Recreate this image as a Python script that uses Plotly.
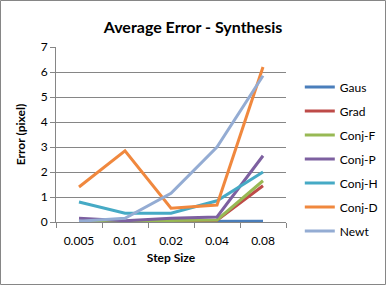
import plotly.graph_objects as go

categories = ["0.005", "0.01", "0.02", "0.04", "0.08"]
series_names = ["Gaus", "Grad", "Conj-F", "Conj-P", "Conj-H", "Conj-D", "Newt"]
gaus = [0.02, 0.02, 0.02, 0.02, 0.03]
grad = [0.0, 0.0, 0.05, 0.07, 1.45]
conj_f = [0.02, 0.02, 0.06, 0.08, 1.65]
conj_p = [0.15, 0.05, 0.15, 0.2, 2.65]
conj_h = [0.8, 0.35, 0.35, 0.85, 2.0]
conj_d = [1.4, 2.85, 0.55, 0.68, 6.2]
newt = [0.03, 0.15, 1.15, 3.0, 5.85]
colors = ["#4A7EBB", "#BE4B48", "#98B954", "#7D60A0", "#46AAC5", "#F0883E", "#94ACD3"]

values = [gaus, grad, conj_f, conj_p, conj_h, conj_d, newt]

fig = go.Figure()
for i, (name, vals) in enumerate(zip(series_names, values)):
    fig.add_trace(go.Scatter(x=categories, y=vals, mode="lines", name=name,
                             legendgroup=name,
                             line=dict(color=colors[i], width=3)))

W, H = 386, 285
L, R, T, B = 56, 100, 47, 63
pw, ph = W - L - R, H - T - B

fig.update_layout(
    width=W, height=H,
    margin=dict(l=L, r=R, t=T, b=B, autoexpand=False),
    paper_bgcolor="white", plot_bgcolor="white",
    font=dict(family="Lato", size=12, color="#000000"),
    title=dict(text="<b>Average Error - Synthesis</b>", x=193 / W, xanchor="center",
               y=1 - 27 / H, yanchor="middle", font=dict(size=16, family="Lato")),
    showlegend=True,
    legend=dict(x=1.06, xanchor="left", y=(222 - 159) / 175, yanchor="middle",
                tracegroupgap=5, font=dict(size=12), itemwidth=30,
                bgcolor="rgba(0,0,0,0)"),
    xaxis=dict(type="category", range=[-0.5, 4.5], showgrid=False, showline=True,
               linecolor="#868686", automargin=False,
               ticks="outside", tickson="boundaries", ticklen=5, tickcolor="#868686",
               ticklabelstandoff=8,
               title=dict(text="<b>Step Size</b>", font=dict(size=12), standoff=6),
               zeroline=False),
    yaxis=dict(range=[0, 7], dtick=1, showgrid=True, gridcolor="#868686",
               showline=True, linecolor="#868686", ticks="outside", ticklen=5,
               tickcolor="#868686", zeroline=False, automargin=False,
               title=dict(text="<b>Error (pixel)</b>", font=dict(size=12), standoff=12)),
    shapes=[dict(type="rect", xref="paper", yref="paper",
                 x0=(0.5 - L) / pw, x1=(W - 0.5 - L) / pw,
                 y0=-(H - 0.5 - T - ph) / ph, y1=(T - 0.5 + ph) / ph,
                 line=dict(color="#868686", width=1), fillcolor="rgba(0,0,0,0)")]
)

fig.write_html("out.html", config={"displayModeBar": False},
               post_script="document.body.style.margin='0';document.body.style.overflow='hidden';")
